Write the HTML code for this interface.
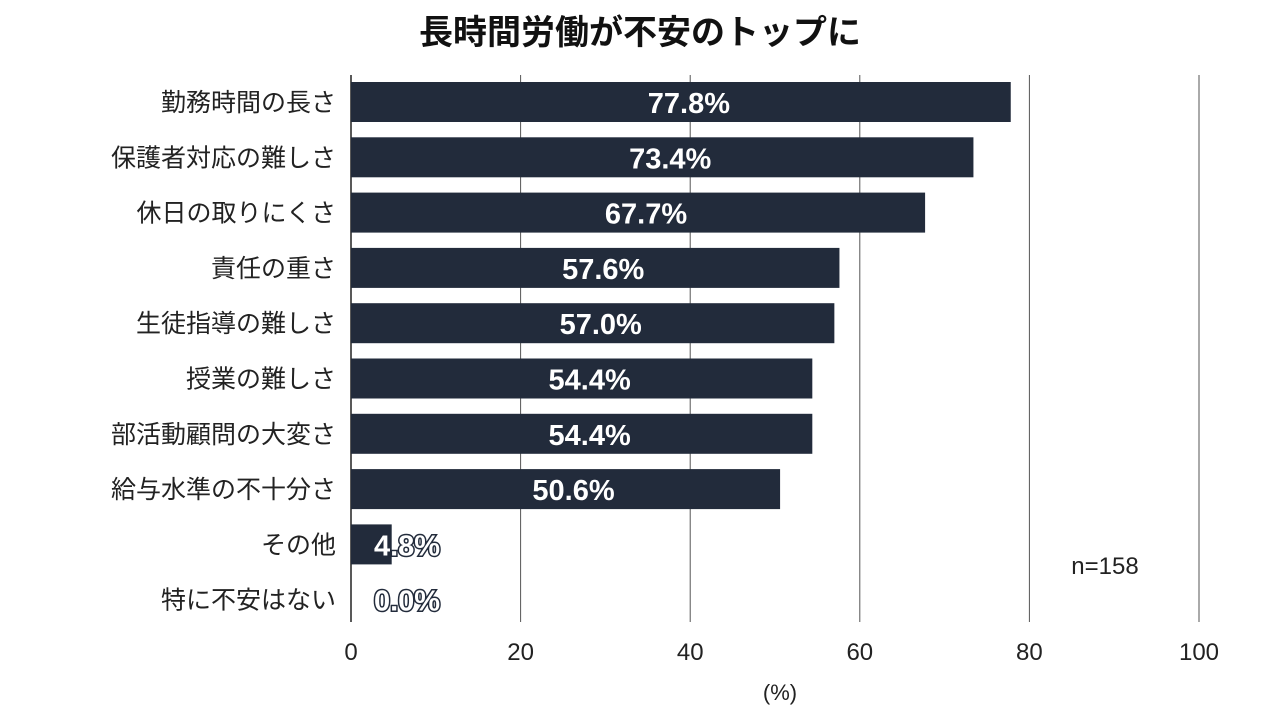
<!DOCTYPE html>
<html><head><meta charset="utf-8">
<style>
body{margin:0;background:#fff;}
svg{display:block;font-family:"Liberation Sans","Noto Sans CJK JP",sans-serif;}
</style></head>
<body>
<svg id="chart" width="1280" height="720" viewBox="0 0 1280 720">
<text x="640" y="44" text-anchor="middle" font-size="34" font-weight="bold" fill="#111">長時間労働が不安のトップに</text>
<g id="grid"></g>
<g id="bars"></g>
<g id="labels"></g>
<text x="1105" y="574" text-anchor="middle" font-size="24" fill="#222">n=158</text>
<text x="780" y="700" text-anchor="middle" font-size="22" fill="#222">(%)</text>
</svg>
<script>
const categories=["勤務時間の長さ","保護者対応の難しさ","休日の取りにくさ","責任の重さ","生徒指導の難しさ","授業の難しさ","部活動顧問の大変さ","給与水準の不十分さ","その他","特に不安はない"];
const values=[77.8,73.4,67.7,57.6,57.0,54.4,54.4,50.6,4.8,0.0];
const ticks=[0,20,40,60,80,100];
const NS="http://www.w3.org/2000/svg";
const x=v=>351+v*8.48;
const y=i=>102+i*55.3;
const barH=40;
function mk(tag,attrs,parent){const e=document.createElementNS(NS,tag);for(const k in attrs)e.setAttribute(k,attrs[k]);parent.appendChild(e);return e;}
const grid=document.getElementById('grid'),bars=document.getElementById('bars'),labels=document.getElementById('labels');
ticks.forEach(t=>{
  const l=mk('line',{x1:x(t),x2:x(t),y1:75,y2:622,stroke:t===0?'#222':'#555','stroke-width':t===0?1.5:1},grid);
  
  
  const tx=mk('text',{x:x(t),y:660,'text-anchor':'middle','font-size':24,fill:'#222'},grid);
  tx.textContent=t;
  
  
});
categories.forEach((c,i)=>{
  const cy=y(i);
  const r=mk('rect',{x:x(0),y:cy-barH/2,width:Math.max(0,x(values[i])-x(0)),height:barH,fill:'#222b3b'},bars);
  
  
  const lb=mk('text',{x:336,y:cy+9,'text-anchor':'end','font-size':25,fill:'#222'},labels);
  lb.textContent=c;
  
  
  const cx=Math.max((x(0)+x(values[i]))/2+8,407);
  const vl=mk('text',{x:cx,y:cy+11,'text-anchor':'middle','font-size':29,'font-weight':'bold',fill:'#fff',stroke:'#222b3b','stroke-width':3,'paint-order':'stroke'},labels);
  vl.textContent=values[i].toFixed(1)+'%';
  
  
});
</script>
</body></html>
